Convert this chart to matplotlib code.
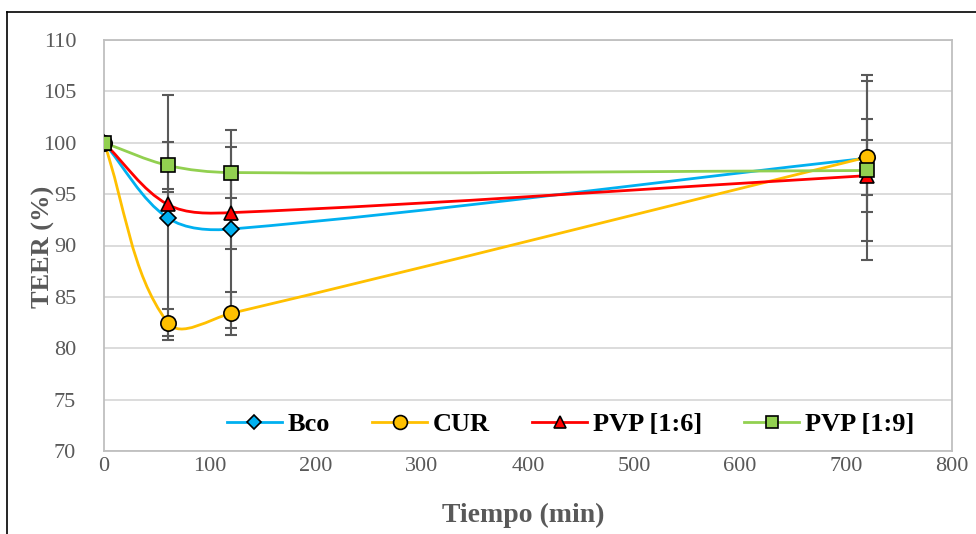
import numpy as np
import matplotlib
matplotlib.use("Agg")
import matplotlib.pyplot as plt
from matplotlib.path import Path
from matplotlib.patches import PathPatch
from matplotlib.lines import Line2D

time_min = [0, 60, 120, 720]
bco = [100, 92.7, 91.6, 98.5]
bco_err = [0, 11.9, 9.6, 8.1]
cur = [100, 82.5, 83.4, 98.6]
cur_err = [0, 1.3, 2.1, 3.7]
pvp16 = [100, 94.0, 93.2, 96.8]
pvp16_err = [0, 1.2, 3.5, 3.5]
pvp19 = [100, 97.8, 97.1, 97.3]
pvp19_err = [0, 2.3, 2.5, 8.7]

labels = ["Bco", "CUR", "PVP [1:6]", "PVP [1:9]"]
colors = ["#00B0F0", "#FFC000", "#FF0000", "#92D050"]
markers = ["D", "o", "^", "s"]
msizes = [8, 11, 10, 10]
series = [bco, cur, pvp16, pvp19]
errs = [bco_err, cur_err, pvp16_err, pvp19_err]

plt.rcParams['font.family'] = ['Liberation Serif', 'DejaVu Serif']

fig = plt.figure(figsize=(9.76, 5.34), dpi=100)
ax = fig.add_axes([104/976, 1 - 451/534, (952-104)/976, (451-40)/534])
ax.set_xlim(0, 800)
ax.set_ylim(70, 110)


def smooth_path(xs, ys):
    # smoothed line through the data points, built in display space
    pts = ax.transData.transform(np.column_stack([xs, ys]).astype(float))
    n = len(pts)
    tangents = []
    for i in range(n):
        a = pts[i - 1] if i > 0 else pts[i]
        b = pts[i + 1] if i + 1 < n else pts[i]
        d = b - a
        tangents.append(d / (np.hypot(*d) + 1e-12))
    verts = [pts[0]]
    codes = [Path.MOVETO]
    for i in range(n - 1):
        p1, p2 = pts[i], pts[i + 1]
        L = np.hypot(*(p2 - p1)) * 0.33
        c1 = p1 + tangents[i] * L
        c2 = p2 - tangents[i + 1] * L
        verts += [c1, c2, p2]
        codes += [Path.CURVE4] * 3
    verts = ax.transData.inverted().transform(np.array(verts))
    return Path(verts, codes)


for ys, es in zip(series, errs):
    ax.errorbar(time_min[1:], ys[1:], yerr=es[1:], fmt='none', ecolor='#595959',
                elinewidth=1.5, capsize=4.5, capthick=1.5, zorder=3)

for ys, c in zip(series, colors):
    patch = PathPatch(smooth_path(time_min, ys), facecolor='none', edgecolor=c,
                      lw=2.0, zorder=4)
    ax.add_patch(patch)

for ys, c, m, ms in zip(series, colors, markers, msizes):
    ax.plot(time_min, ys, linestyle='none', marker=m, markersize=ms,
            markerfacecolor=c, markeredgecolor='black', markeredgewidth=1.2, zorder=5)

ax.set_xticks(np.arange(0, 801, 100))
ax.set_yticks(np.arange(70, 111, 5))
ax.yaxis.grid(True, color='#d9d9d9', lw=1.3)
ax.set_axisbelow(True)
for s in ax.spines.values():
    s.set_color('#bfbfbf')
    s.set_linewidth(1.3)
ax.tick_params(length=0, labelsize=16, labelcolor='#595959')
ax.tick_params(axis='y', pad=20)
ax.tick_params(axis='x', pad=4)

ax.set_xlabel("Tiempo (min)", fontsize=20, fontweight='bold', color='#595959')
ax.set_ylabel("TEER (%)", fontsize=19, fontweight='bold', color='#595959')
ax.xaxis.set_label_coords((523 - 104) / 848, (451 - 503) / 411)
ax.yaxis.set_label_coords((55 - 104) / 848, (451 - 247) / 411)

handles = [Line2D([0], [0], color=c, lw=2.0, marker=m, markersize=ms - 1,
                  markerfacecolor=c, markeredgecolor='black', markeredgewidth=1.2)
           for c, m, ms in zip(colors, markers, msizes)]
leg = ax.legend(handles, labels, loc='center', bbox_to_anchor=(0.55, 0.065), ncol=4,
                frameon=True, framealpha=1, edgecolor='none', facecolor='white',
                prop={'weight': 'bold', 'size': 19}, handlelength=2.1,
                columnspacing=1.6, handletextpad=0.2, borderpad=0.3)
leg.set_zorder(6)

fig.add_artist(Line2D([7/976, 7/976], [0, 1 - 12/534], transform=fig.transFigure,
                      color='black', lw=1.2))
fig.add_artist(Line2D([7/976, 1], [1 - 12/534, 1 - 12/534], transform=fig.transFigure,
                      color='black', lw=1.2))

fig.savefig("out.png", dpi=100)
